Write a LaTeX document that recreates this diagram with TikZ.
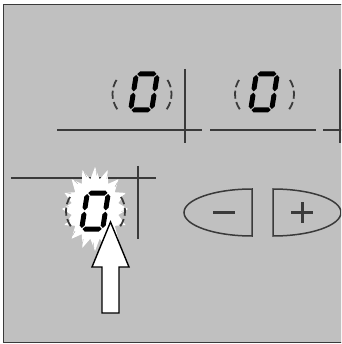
\documentclass[tikz,border=0pt]{standalone}
\usetikzlibrary{calc}
\newcommand{\hsegm}[3]{\fill (#1,#3) -- ++(2.5,-2.5) -- ++({#2-5},0) -- ++(2.5,2.5) -- ++(-2.5,2.5) -- ++({5-#2},0) -- cycle;}
\newcommand{\vsegm}[3]{\fill (#1,#2) -- ++(2.5,2.5) -- ++(0,{#3-5}) -- ++(-2.5,2.5) -- ++(-2.5,-2.5) -- ++(0,{5-#3}) -- cycle;}
\newcommand{\sevenzero}[2]{%
  \begin{scope}[shift={(#1,#2)}, xslant=0.16]
    \hsegm{-9.6}{19.2}{-18}
    \hsegm{-9.6}{19.2}{18}
    \vsegm{-10.5}{-17}{16.3}
    \vsegm{-10.5}{0.7}{16.3}
    \vsegm{10.5}{-17}{16.3}
    \vsegm{10.5}{0.7}{16.3}
  \end{scope}}
\newcommand{\parens}[2]{%
  \draw[paren] (#1,#2) ++(147:29.5 and 28) arc[start angle=147, end angle=213, x radius=29.5, y radius=28];
  \draw[paren] (#1,#2) ++(33:29.5 and 28) arc[start angle=33, end angle=-33, x radius=29.5, y radius=28];}
\begin{document}
\begin{tikzpicture}[x=1pt,y=-1pt]
\definecolor{panel}{RGB}{192,192,192}
\definecolor{ink}{RGB}{58,58,58}
\tikzset{
  rule/.style={draw=ink, line width=1.7pt},
  paren/.style={draw=ink, line width=1.8pt, dash pattern=on 8pt off 3.5pt},
  btn/.style={draw=ink, line width=1.5pt},
  sign/.style={draw=ink, line width=3pt},
  arrowbox/.style={draw=black, fill=white, line width=1.4pt, line join=miter}
}
\useasboundingbox (0,0) rectangle (341,344);
\clip (0,0) rectangle (341,344);
\fill[white] (0,0) rectangle (341,344);
\draw[fill=panel, draw=ink, line width=1.3pt] (3.5,4.5) rectangle (346,342.5);

% upper rules
\draw[rule] (57,130) -- (202,130);
\draw[rule] (185,69) -- (185,143);
\draw[rule] (210,130) -- (316,130);
\draw[rule] (323,130) -- (345,130);
\draw[rule] (340,69) -- (340,143);

% upper digits
\parens{142}{94}
\sevenzero{144}{92}
\parens{264.5}{94}
\sevenzero{264}{92}

% lower rules
\draw[rule] (11,178) -- (156,178);
\draw[rule] (138,166) -- (138,239);

% buttons
\draw[btn] (252,189) -- (252,236) arc[start angle=90, end angle=270, x radius=68, y radius=23.5] -- cycle;
\draw[sign] (213,212.5) -- (235,212.5);
\draw[btn] (273,189) -- (273,236) arc[start angle=90, end angle=-90, x radius=68, y radius=23.5] -- cycle;
\draw[sign] (291,212.5) -- (313,212.5);
\draw[sign] (302,202) -- (302,223);

% starburst
\fill[white] (95,209) ++(0:33 and 42)
  \foreach \i [evaluate=\i as \r using {mod(\i,2)==0 ? 1 : 0.72}] in {1,...,31} { -- ($(95,209)+({\i*11.25}:{33*\r} and {42*\r})$) } -- cycle;
\foreach \i in {0,2,...,30} {
  \draw[gray!70, line width=0.4pt] ($(95,209)+({\i*11.25+4}:{33*0.8} and {42*0.8})$) -- ($(95,209)+({\i*11.25+2}:{33*0.93} and {42*0.93})$);
}
\parens{95.5}{211}
\sevenzero{95}{211}

% arrow
\draw[arrowbox] (110.5,222) -- (129,267) -- (119,267) -- (119,313) -- (102,313) -- (102,267) -- (92,267) -- cycle;
\end{tikzpicture}
\end{document}
